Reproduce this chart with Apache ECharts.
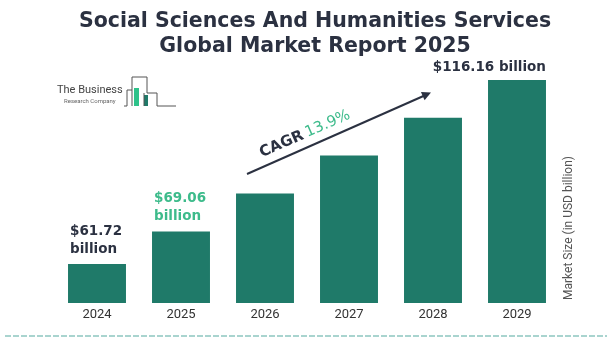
<!DOCTYPE html>
<html>
<head>
<meta charset="utf-8">
<script src="https://cdn.jsdelivr.net/npm/echarts@6/dist/echarts.min.js"></script>
<style>
    html, body { margin: 0; padding: 0; background: #fff; }
    #chart { width: 612px; height: 341px; }
</style>
</head>
<body>
<div id="chart"></div>
<script>
// 数据
var years = ['2024', '2025', '2026', '2027', '2028', '2029'];
var marketSize = [61.72, 69.06, 78.66, 89.59, 102.04, 116.16];
var labelText = ['$61.72\nbillion', '$69.06\nbillion', '', '', '', '$116.16 billion'];
var cagrText = '13.9%';

var barColor = '#1f7a69';
var green = '#3dbb8b';
var dark = '#2b3141';
var boldFont = 'DejaVu Sans';

var myChart = echarts.init(document.getElementById('chart'));

var barData = marketSize.map(function (v, i) {
    var item = { value: v };
    if (i === 0 || i === 1) {
        item.label = {
            show: true, position: [2, -6], align: 'left', verticalAlign: 'bottom',
            color: i === 0 ? dark : green, lineHeight: 18
        };
    } else if (i === years.length - 1) {
        item.label = {
            show: true, position: ['100%', -6], align: 'right', verticalAlign: 'bottom',
            color: dark
        };
    }
    return item;
});

var option = {
    backgroundColor: '#fff',
    animation: false,
    title: {
        text: 'Social Sciences And Humanities Services\nGlobal Market Report 2025',
        left: 315,
        top: 9,
        padding: 0,
        textAlign: 'center',
        textStyle: {
            fontFamily: boldFont,
            fontSize: 20.5,
            fontWeight: 'bold',
            color: dark,
            lineHeight: 25
        }
    },
    grid: { left: 55, right: 53, top: 80, bottom: 38 },
    xAxis: {
        type: 'category',
        data: years,
        axisLine: { show: false },
        axisTick: { show: false },
        axisLabel: { color: '#333', fontSize: 13, fontFamily: 'Roboto', margin: 5 }
    },
    yAxis: {
        type: 'log',
        logBase: 10,
        min: 54,
        max: 116.16,
        startValue: 54,
        show: false,
        splitLine: { show: false }
    },
    series: [{
        type: 'bar',
        data: barData,
        barCategoryGap: '31%',
        clip: true,
        itemStyle: { color: barColor },
        label: {
            show: false,
            fontFamily: boldFont,
            fontSize: 13.5,
            fontWeight: 'bold',
            formatter: function (p) { return labelText[p.dataIndex]; }
        }
    }],
    graphic: [
        // CAGR 箭头
        {
            type: 'line',
            shape: { x1: 247, y1: 174, x2: 428, y2: 94 },
            style: { stroke: dark, lineWidth: 2 }
        },
        {
            type: 'polygon',
            x: 431, y: 92.5, rotation: 0.416,
            shape: { points: [[0, 0], [-9, -4.5], [-9, 4.5]] },
            style: { fill: dark }
        },
        {
            type: 'text',
            x: 305, y: 134, rotation: 0.416,
            style: {
                text: '{a|CAGR} {b|' + cagrText + '}',
                align: 'center', verticalAlign: 'middle',
                rich: {
                    a: { fontFamily: boldFont, fontSize: 15, fontWeight: 'bold', fill: dark },
                    b: { fontFamily: boldFont, fontSize: 15, fill: green }
                }
            }
        },
        // 纵轴名称
        {
            type: 'text',
            x: 569, y: 228, rotation: Math.PI / 2,
            style: {
                text: 'Market Size (in USD billion)',
                align: 'center', verticalAlign: 'middle',
                fontFamily: 'Roboto', fontSize: 12, fill: '#555'
            }
        },
        // logo
        {
            type: 'text', x: 57, y: 90,
            style: { text: 'The Business', fontFamily: 'Roboto', fontSize: 11, fill: '#444', verticalAlign: 'middle' }
        },
        {
            type: 'text', x: 64, y: 101,
            style: { text: 'Research Company', fontFamily: 'Roboto', fontSize: 6, fill: '#666', verticalAlign: 'middle' }
        },
        {
            type: 'rect', shape: { x: 134, y: 88, width: 5, height: 18 }, style: { fill: '#2ec28a' }
        },
        {
            type: 'rect', shape: { x: 144, y: 95, width: 4, height: 11 }, style: { fill: '#1f7a69' }
        },
        {
            type: 'polyline',
            shape: { points: [[124, 106], [127, 106], [127, 90], [132, 90], [132, 77], [147, 77], [147, 93], [157, 93], [157, 106], [176, 106]] },
            style: { stroke: '#555', lineWidth: 1, fill: null }
        },
        {
            type: 'line', shape: { x1: 132, y1: 90, x2: 132, y2: 106 }, style: { stroke: '#555', lineWidth: 1 }
        },
        {
            type: 'line', shape: { x1: 144, y1: 93, x2: 144, y2: 106 }, style: { stroke: '#555', lineWidth: 1 }
        },
        // 底部虚线
        {
            type: 'line',
            shape: { x1: 5, y1: 336, x2: 607, y2: 336 },
            style: { stroke: '#a9d4cf', lineWidth: 2, lineDash: [6, 2] }
        }
    ]
};
myChart.setOption(option);
</script>
</body>
</html>
